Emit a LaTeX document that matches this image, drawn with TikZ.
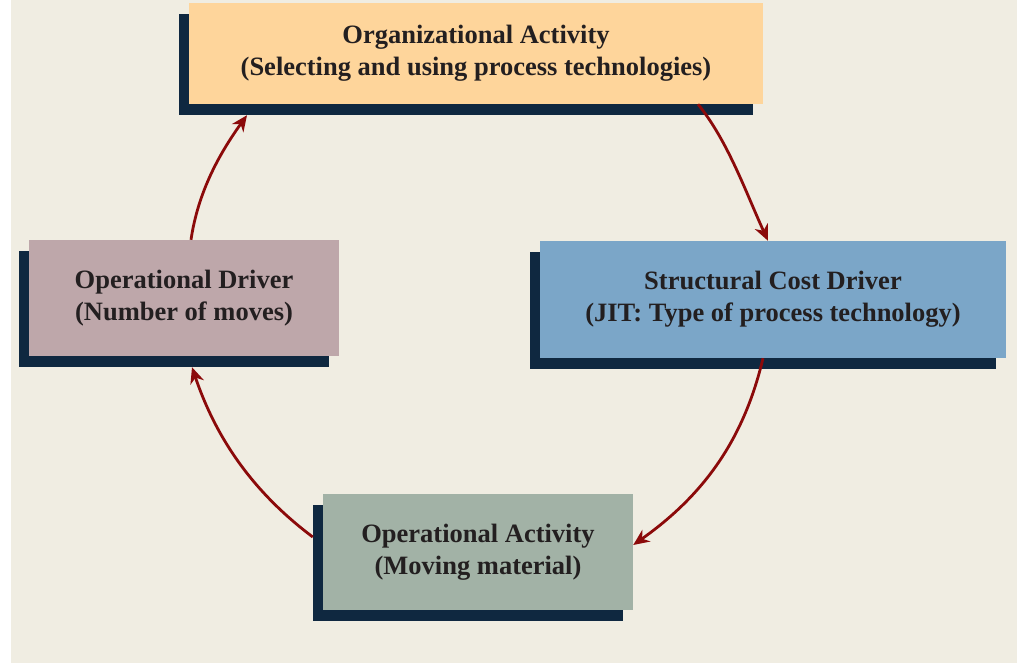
\documentclass[tikz,border=0pt]{standalone}
\usepackage{fontspec}
\setmainfont{Liberation Serif}
\usetikzlibrary{arrows.meta,shadows}
\definecolor{bgc}{HTML}{F0EDE2}
\definecolor{navy}{HTML}{0F2840}
\definecolor{orangebox}{HTML}{FED59B}
\definecolor{bluebox}{HTML}{7BA6C8}
\definecolor{mauvebox}{HTML}{BEA7AA}
\definecolor{sagebox}{HTML}{A2B2A6}
\definecolor{arrowred}{HTML}{8B0A0A}
\definecolor{txt}{HTML}{231F20}
\begin{document}
\begin{tikzpicture}[x=1pt,y=-1pt,
  box/.style={draw=none, align=center, text=txt, inner sep=0pt,
    font=\fontsize{26.5}{32}\selectfont\bfseries,
    drop shadow={shadow xshift=-10pt, shadow yshift=-11pt, fill=navy, opacity=1}},
  arr/.style={draw=arrowred, line width=2.8pt, -{Stealth[length=16pt,width=14pt,inset=5pt]}}]
\useasboundingbox (0,0) rectangle (1017,663);
\fill[bgc] (11,0) rectangle (1017,663);
\node[box, fill=orangebox, minimum width=574pt, minimum height=101pt] (top) at (476,53.5)
  {Organizational Activity\\(Selecting and using process technologies)};
\node[box, fill=bluebox, minimum width=466pt, minimum height=117pt] (right) at (773,299.5)
  {Structural Cost Driver\\(JIT: Type of process technology)};
\node[box, fill=mauvebox, minimum width=310pt, minimum height=116pt] (left) at (184,298)
  {Operational Driver\\(Number of moves)};
\node[box, fill=sagebox, minimum width=310pt, minimum height=116pt] (bot) at (478,552)
  {Operational Activity\\(Moving material)};
\draw[arr] ([xshift=222pt]top.south) .. controls +(30,37) and +(-22,-48) .. ([xshift=-5pt]right.north);
\draw[arr] ([xshift=-10pt]right.south) .. controls +(-19.5,82.5) and +(69.7,-49.3) .. ([yshift=7pt]bot.east);
\draw[arr] ([xshift=-10pt,yshift=15pt]bot.west) .. controls +(-60,-45) and +(24,71) .. ([xshift=8pt,yshift=-11pt]left.south);
\draw[arr] ([xshift=7pt]left.north) .. controls +(7,-47.5) and +(-28,39) .. ([xshift=-229pt,yshift=-11pt]top.south);
\end{tikzpicture}
\end{document}
